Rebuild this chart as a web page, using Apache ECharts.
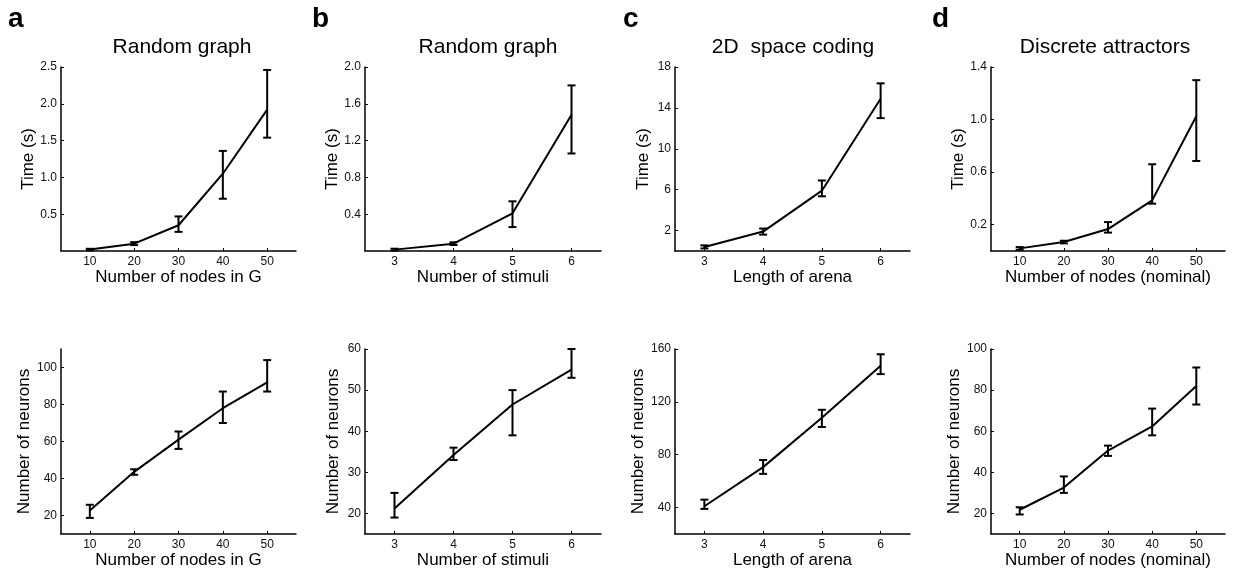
<!DOCTYPE html>
<html>
<head>
<meta charset="utf-8">
<script src="https://cdn.jsdelivr.net/npm/echarts@6/dist/echarts.min.js"></script>
<style>
  html, body { margin: 0; padding: 0; background: #fff; }
  #chart { width: 1233px; height: 570px; }
</style>
</head>
<body>
<div id="chart"></div>
<script>
// x values
var nodesX = [10, 20, 30, 40, 50];
var stimuliX = [3, 4, 5, 6];
var arenaX = [3, 4, 5, 6];

// top row: time (s), mean / lower / upper
var timeA = [0.02, 0.10, 0.35, 1.05, 1.92];
var timeALo = [0.01, 0.08, 0.26, 0.71, 1.54];
var timeAHi = [0.03, 0.12, 0.47, 1.36, 2.46];

var timeB = [0.015, 0.08, 0.41, 1.48];
var timeBLo = [0.005, 0.065, 0.26, 1.06];
var timeBHi = [0.025, 0.095, 0.54, 1.80];

var timeC = [0.4, 1.9, 5.9, 14.9];
var timeCLo = [0.25, 1.6, 5.35, 13.0];
var timeCHi = [0.55, 2.2, 6.9, 16.4];

var timeD = [0.02, 0.068, 0.167, 0.385, 1.025];
var timeDLo = [0.01, 0.058, 0.14, 0.36, 0.685];
var timeDHi = [0.03, 0.078, 0.22, 0.66, 1.30];

// bottom row: number of neurons
var neurA = [22.7, 43.6, 61, 78, 92];
var neurALo = [18.7, 42, 56, 70, 87];
var neurAHi = [25.8, 45, 65.4, 87, 104];

var neurB = [21.2, 34.2, 46.5, 55];
var neurBLo = [19, 33, 39, 53];
var neurBHi = [25, 36, 50, 60];

var neurC = [41, 70.6, 108, 147.4];
var neurCLo = [39, 65.5, 101, 141];
var neurCHi = [46, 76, 114, 156];

var neurD = [21.8, 32.6, 50.6, 62.3, 82];
var neurDLo = [19.5, 30, 48, 58, 73];
var neurDHi = [23, 38, 53, 71, 91];

// tick labels
var timeTicksA = [0.5, 1.0, 1.5, 2.0, 2.5];
var timeTicksB = [0.4, 0.8, 1.2, 1.6, 2.0];
var timeTicksC = [2, 6, 10, 14, 18];
var timeTicksD = [0.2, 0.6, 1.0, 1.4];
var neurTicksA = [20, 40, 60, 80, 100];
var neurTicksB = [20, 30, 40, 50, 60];
var neurTicksC = [40, 80, 120, 160];
var neurTicksD = [20, 40, 60, 80, 100];

var panelLetters = ['a', 'b', 'c', 'd'];
var panelTitles = ['Random graph', 'Random graph', '2D  space coding', 'Discrete attractors'];
var xNames = ['Number of nodes in G', 'Number of stimuli', 'Length of arena', 'Number of nodes (nominal)'];

var FONT = '"Liberation Sans", Arial, Helvetica, sans-serif';

var panels = [
  { x: nodesX, y: timeA, lo: timeALo, hi: timeAHi, xr: [3.5, 56.5], yr: [0, 2.5], ticks: timeTicksA, dec: 1, name: 'Time (s)' },
  { x: stimuliX, y: timeB, lo: timeBLo, hi: timeBHi, xr: [2.5, 6.5], yr: [0, 2.0], ticks: timeTicksB, dec: 1, name: 'Time (s)' },
  { x: arenaX, y: timeC, lo: timeCLo, hi: timeCHi, xr: [2.5, 6.5], yr: [0, 18], ticks: timeTicksC, dec: 0, name: 'Time (s)' },
  { x: nodesX, y: timeD, lo: timeDLo, hi: timeDHi, xr: [3.5, 56.5], yr: [0, 1.4], ticks: timeTicksD, dec: 1, name: 'Time (s)' },
  { x: nodesX, y: neurA, lo: neurALo, hi: neurAHi, xr: [3.5, 56.5], yr: [10, 110], ticks: neurTicksA, dec: 0, name: 'Number of neurons' },
  { x: stimuliX, y: neurB, lo: neurBLo, hi: neurBHi, xr: [2.5, 6.5], yr: [15, 60], ticks: neurTicksB, dec: 0, name: 'Number of neurons' },
  { x: arenaX, y: neurC, lo: neurCLo, hi: neurCHi, xr: [2.5, 6.5], yr: [20, 160], ticks: neurTicksC, dec: 0, name: 'Number of neurons' },
  { x: nodesX, y: neurD, lo: neurDLo, hi: neurDHi, xr: [3.5, 56.5], yr: [10, 100], ticks: neurTicksD, dec: 0, name: 'Number of neurons' }
];

var gridLefts = [61, 365, 675, 991];
var gridWidths = [235, 236, 235, 234];
var rowTops = [67, 349];
var rowHeights = [184, 185];
var letterX = [8, 312, 623, 932];
var titleX = [182, 488, 793, 1105];

var grids = [], xAxes = [], yAxes = [], series = [];

// vertical error bar with caps, placed through the axes
function errorBarItem(params, api) {
  var x = api.value(0);
  var top = api.coord([x, api.value(2)]);
  var bot = api.coord([x, api.value(1)]);
  var hw = 4;
  var st = { stroke: '#000', lineWidth: 2 };
  return {
    type: 'group',
    children: [
      { type: 'line', shape: { x1: top[0], y1: top[1], x2: bot[0], y2: bot[1] }, style: st },
      { type: 'line', shape: { x1: top[0] - hw, y1: top[1], x2: top[0] + hw, y2: top[1] }, style: st },
      { type: 'line', shape: { x1: bot[0] - hw, y1: bot[1], x2: bot[0] + hw, y2: bot[1] }, style: st }
    ]
  };
}

panels.forEach(function(p, i) {
  var col = i % 4;
  var row = Math.floor(i / 4);
  grids.push({
    left: gridLefts[col], top: rowTops[row],
    width: gridWidths[col], height: rowHeights[row],
    containLabel: false
  });
  xAxes.push({
    gridIndex: i,
    type: 'value',
    min: p.xr[0], max: p.xr[1],
    name: xNames[col],
    nameLocation: 'middle',
    nameGap: 18,
    nameTextStyle: { fontFamily: FONT, fontSize: 17, color: '#000', verticalAlign: 'top' },
    axisLine: { show: true, onZero: false, lineStyle: { color: '#000', width: 1.5 } },
    axisTick: { show: true, inside: true, length: 3, customValues: p.x, lineStyle: { color: '#000' } },
    axisLabel: { customValues: p.x, fontFamily: FONT, fontSize: 12, color: '#111', margin: 5 },
    splitLine: { show: false }
  });
  yAxes.push({
    gridIndex: i,
    type: 'value',
    min: p.yr[0], max: p.yr[1],
    name: p.name,
    nameLocation: 'middle',
    nameGap: 23,
    nameRotate: 90,
    nameTextStyle: { fontFamily: FONT, fontSize: 17, color: '#000' },
    axisLine: { show: true, onZero: false, lineStyle: { color: '#000', width: 1.5 } },
    axisTick: { show: true, inside: true, length: 3, customValues: p.ticks, lineStyle: { color: '#000' } },
    axisLabel: {
      customValues: p.ticks, fontFamily: FONT, fontSize: 12, color: '#111', margin: 4,
      formatter: (function(dec) { return function(v) { return v.toFixed(dec) } })(p.dec)
    },
    splitLine: { show: false }
  });
  series.push({
    type: 'line',
    xAxisIndex: i, yAxisIndex: i,
    data: p.x.map(function(v, k) { return [v, p.y[k]] }),
    showSymbol: false,
    lineStyle: { color: '#000', width: 2 },
    silent: true,
    z: 3
  });
  series.push({
    type: 'custom',
    xAxisIndex: i, yAxisIndex: i,
    data: p.x.map(function(v, k) { return [v, p.lo[k], p.hi[k]] }),
    encode: { x: 0, y: [1, 2] },
    renderItem: errorBarItem,
    silent: true,
    z: 4
  });
});

var graphics = [];
panelLetters.forEach(function(l, c) {
  graphics.push({
    type: 'text', left: letterX[c], top: 5,
    style: { text: l, font: 'bold 28px ' + FONT, fill: '#000' }
  });
  graphics.push({
    type: 'text', x: titleX[c], y: 47,
    style: { text: panelTitles[c], font: '21px ' + FONT, fill: '#000', align: 'center', verticalAlign: 'middle' }
  });
});

var chart = echarts.init(document.getElementById('chart'), null, { renderer: 'canvas' });
chart.setOption({
  animation: false,
  backgroundColor: '#fff',
  grid: grids,
  xAxis: xAxes,
  yAxis: yAxes,
  series: series,
  graphic: graphics
});
</script>
</body>
</html>
